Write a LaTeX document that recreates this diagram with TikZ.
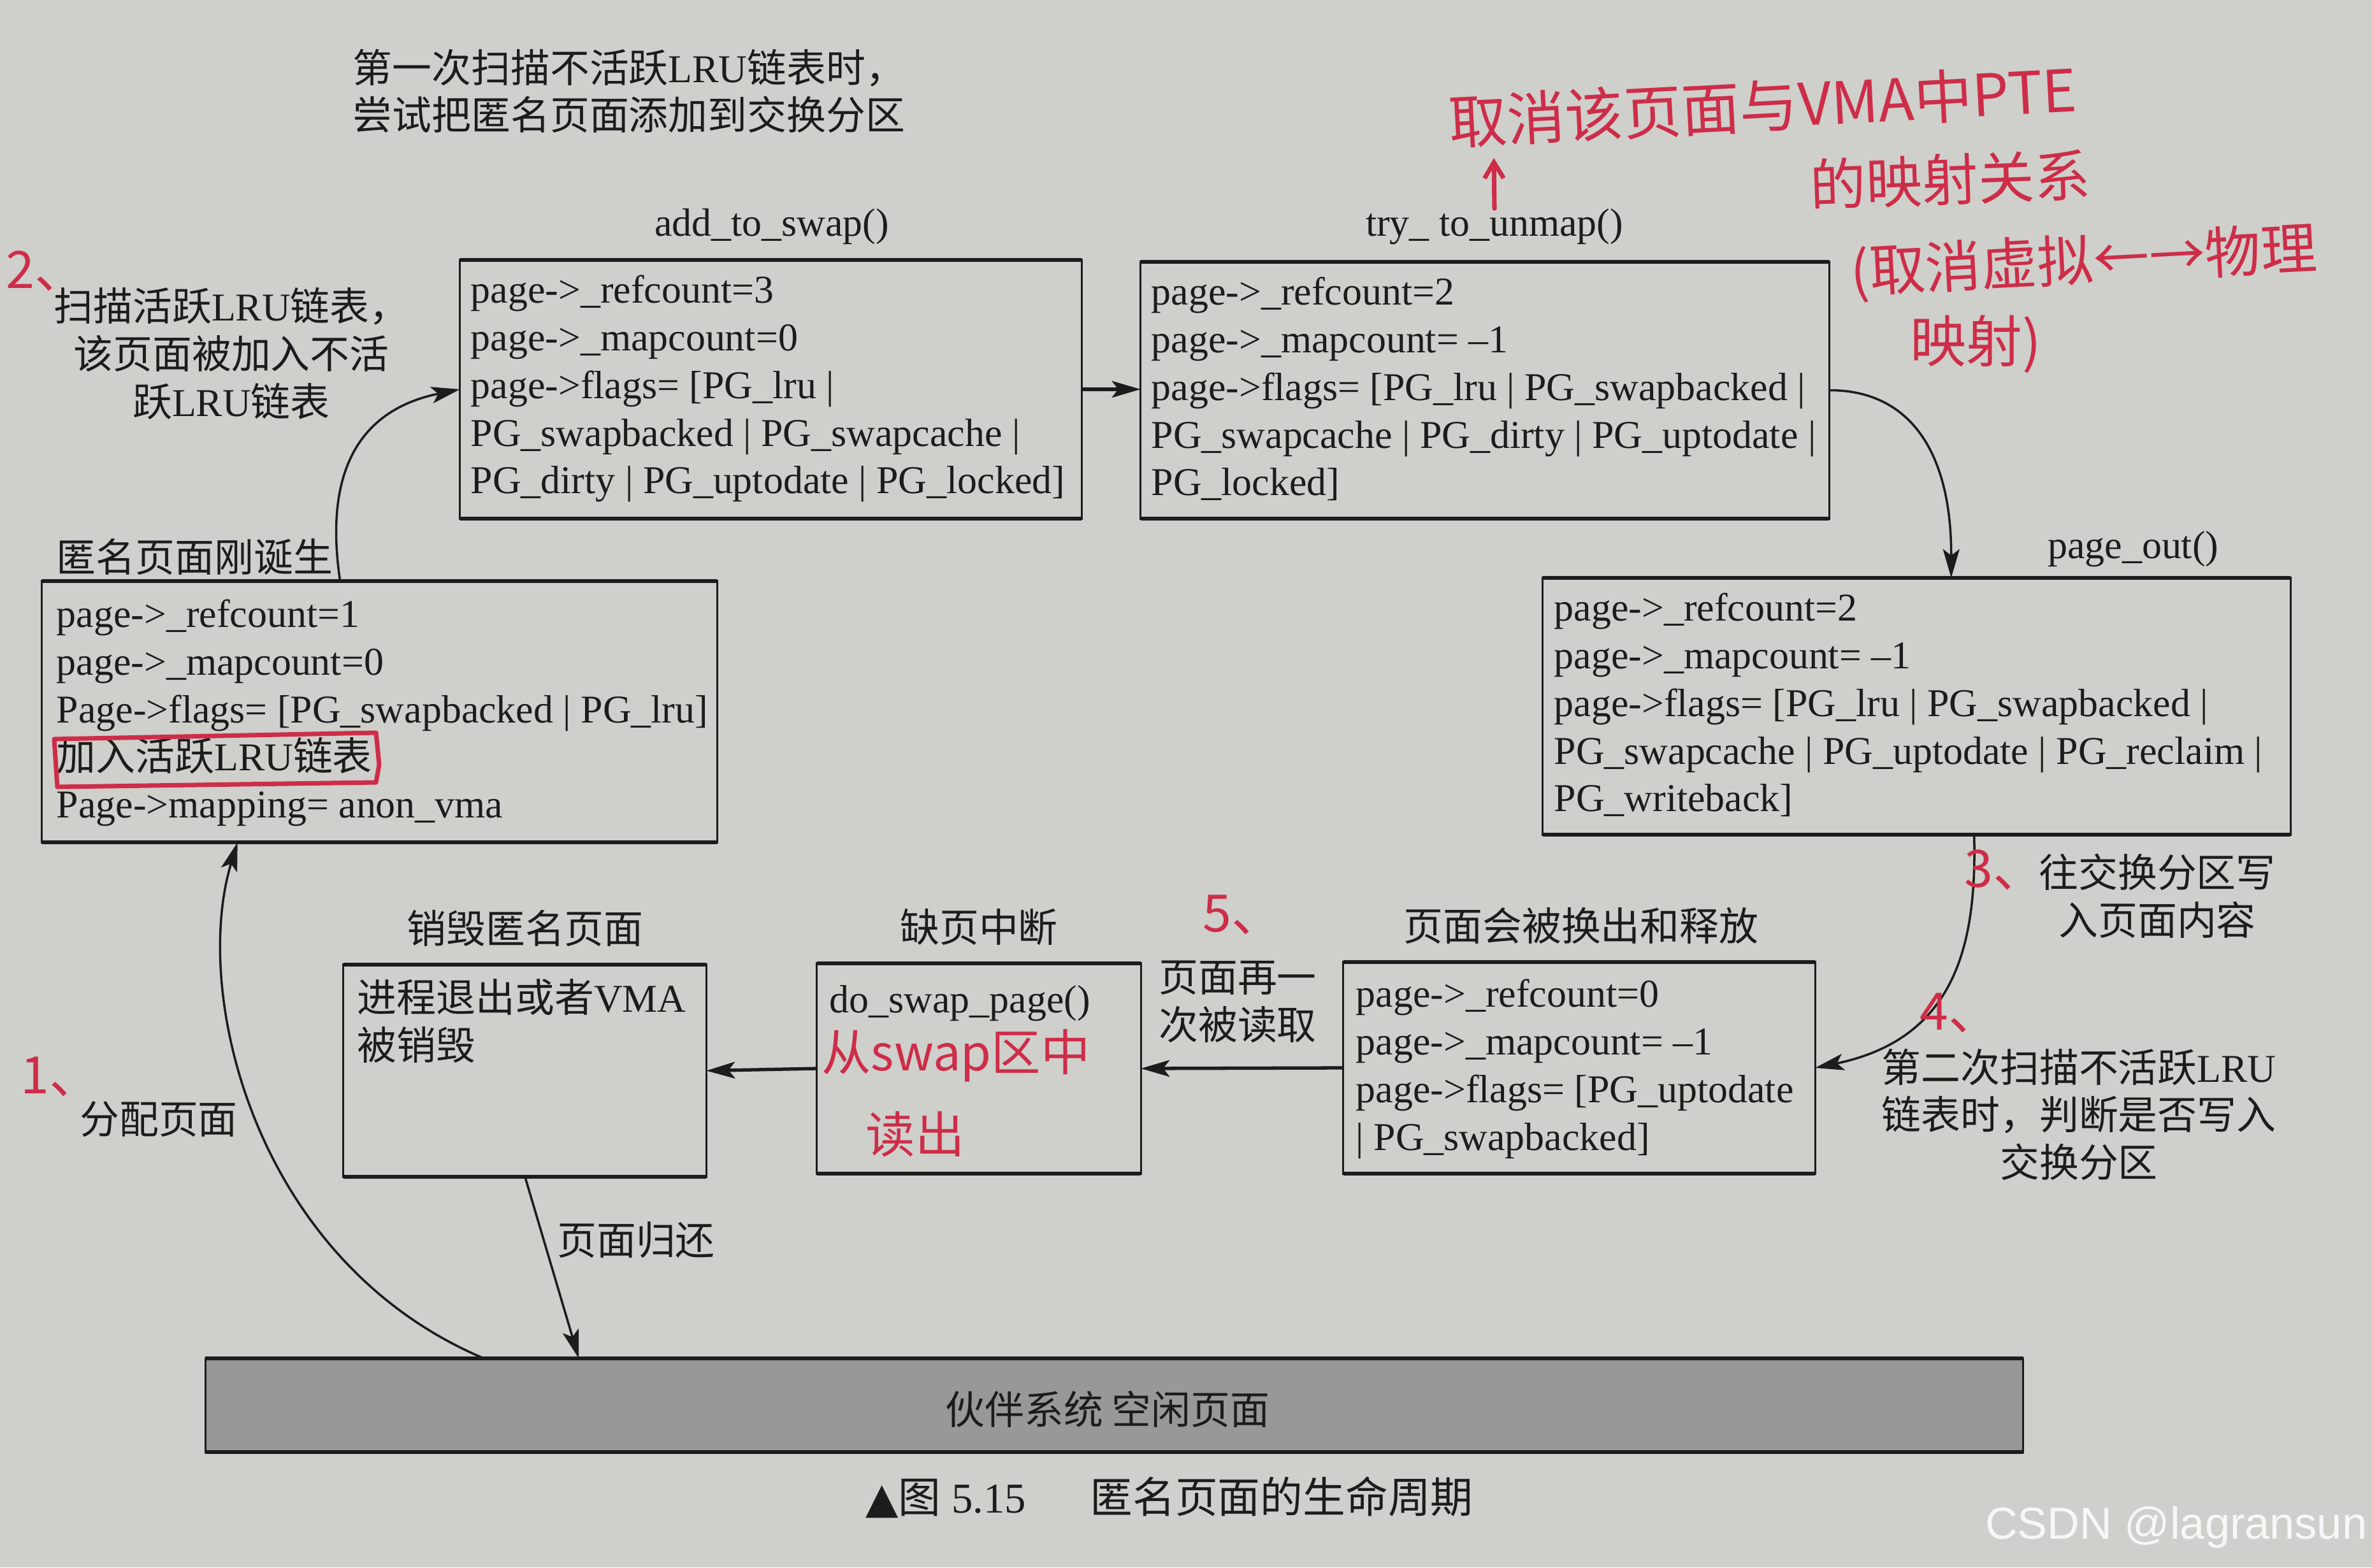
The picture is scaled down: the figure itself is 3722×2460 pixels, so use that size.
\documentclass[tikz,border=0pt]{standalone}
\usepackage{fontspec}
\setmainfont{Liberation Serif}
\newfontfamily\cjk{Noto Sans CJK SC}
\newfontfamily\symf{DejaVu Sans}
\newfontfamily\wmf{Liberation Sans}
\usetikzlibrary{arrows.meta,calc}
\definecolor{paper}{RGB}{207,207,203}
\definecolor{barfill}{RGB}{152,152,150}
\definecolor{ink}{RGB}{28,28,28}
\definecolor{pen}{RGB}{205,45,72}
\newcommand{\myfs}{\fontsize{17.6}{21.3}\selectfont}
\begin{document}
\begin{tikzpicture}[x=0.01cm,y=-0.01cm,
  box/.style={draw=ink, line width=0.85pt, inner sep=0pt, outer sep=0pt},
  rule/.style={draw=ink, line width=1.8pt},
  btxt/.style={inner sep=0pt, anchor=north west, align=left, font=\myfs, text=ink, execute at begin node=\strut},
  lab/.style={inner sep=0pt, font=\cjk\myfs, text=ink},
  mlab/.style={inner sep=0pt, font=\cjk\myfs, text=ink, align=center, anchor=north, execute at begin node=\strut},
  fn/.style={inner sep=0pt, font=\myfs, text=ink},
  arr/.style={draw=ink, line width=1pt, -{Stealth[length=0.45cm,width=0.26cm,inset=0.1cm]}},
  sarr/.style={arr, line width=1.5pt},
  hand/.style={inner sep=0pt, text=pen, font=\cjk\fontsize{25}{30}\selectfont},
  hnum/.style={inner sep=0pt, text=pen, font=\cjk\fontsize{23}{27}\selectfont},
  hands/.style={inner sep=0pt, text=pen, font=\cjk\fontsize{22}{26}\selectfont},
  penline/.style={draw=pen, line width=2pt, line cap=round, line join=round},
]
\path[fill=paper] (0,0) rectangle (3722,2460);
\useasboundingbox (0,0) rectangle (3722,2460);

% boxes
\node[box, minimum width=9.75cm, minimum height=4.06cm] (A) at (1209.5,611) {};
\node[box, minimum width=10.8cm, minimum height=4.03cm] (B) at (2330,612.5) {};
\node[box, minimum width=11.73cm, minimum height=4.03cm] (C) at (3007.5,1108.5) {};
\node[box, minimum width=10.59cm, minimum height=4.10cm] (D) at (595.5,1117) {};
\node[box, minimum width=7.40cm, minimum height=3.32cm] (E) at (2478,1676) {};
\node[box, minimum width=5.08cm, minimum height=3.30cm] (F) at (1536,1677) {};
\node[box, minimum width=5.69cm, minimum height=3.33cm] (G) at (823.5,1680.5) {};
\node[box, fill=barfill, minimum width=28.51cm, minimum height=1.47cm] (Bar) at (1748.5,2205.5) {};
\foreach \n in {A,B,C,D,E,F,G,Bar}{
  \draw[rule] (\n.north west) -- (\n.north east);
  \draw[rule] (\n.south west) -- (\n.south east);
}

% box texts
\node[btxt] (At) at (738,431) {page->\_refcount=3\\page->\_mapcount=0\\page->flags= [PG\_lru |\\PG\_swapbacked | PG\_swapcache |\\PG\_dirty | PG\_uptodate | PG\_locked]};
\node[btxt] (Bt) at (1806,434) {page->\_refcount=2\\page->\_mapcount= –1\\page->flags= [PG\_lru | PG\_swapbacked |\\PG\_swapcache | PG\_dirty | PG\_uptodate |\\PG\_locked]};
\node[btxt] (Ct) at (2438,930) {page->\_refcount=2\\page->\_mapcount= –1\\page->flags= [PG\_lru | PG\_swapbacked |\\PG\_swapcache | PG\_uptodate | PG\_reclaim |\\PG\_writeback]};
\node[btxt] (Dt) at (88,940) {page->\_refcount=1\\page->\_mapcount=0\\Page->flags= [PG\_swapbacked | PG\_lru]\\{\cjk 加入活跃}LRU{\cjk 链表}\\Page->mapping= anon\_vma};
\node[btxt] (Et) at (2127,1536) {page->\_refcount=0\\page->\_mapcount= –1\\page->flags= [PG\_uptodate\\| PG\_swapbacked]};
\node[btxt] (Ft) at (1301,1536) {do\_swap\_page()};
\node[btxt] (Gt) at (560,1536) {{\cjk 进程退出或者}VMA\\{\cjk 被销毁}};
\node[lab] (Bart) at (1738,2212) {伙伴系统 空闲页面};

% titles
\node[btxt, font=\cjk\myfs] (T1) at (553,76) {第一次扫描不活跃{\rmfamily LRU}链表时，\\尝试把匿名页面添加到交换分区};
\node[fn] (TA) at (1211,356) {add\_to\_swap()};
\node[fn] (TB) at (2345,356) {try\_ to\_unmap()};
\node[fn, anchor=east] (TC) at (3482,862) {page\_out()};
\node[lab, anchor=west] (TD) at (88,874) {匿名页面刚诞生};
\node[lab] (TE) at (2481,1453) {页面会被换出和释放};
\node[lab] (TF) at (1536,1455) {缺页中断};
\node[lab] (TG) at (824,1457) {销毁匿名页面};

% side labels
\node[mlab] (L2) at (363,451) {扫描活跃{\rmfamily LRU}链表，\\该页面被加入不活\\跃{\rmfamily LRU}链表};
\node[lab] (L1) at (249,1757) {分配页面};
\node[lab] (LR) at (998,1946) {页面归还};
\node[mlab] (L5) at (1942,1507) {页面再一\\次被读取};
\node[mlab] (L3) at (3385,1339) {往交换分区写\\入页面内容};
\node[mlab] (L4) at (3262,1645) {第二次扫描不活跃{\rmfamily LRU}\\链表时，判断是否写入\\交换分区};

% connectors
\draw[arr] ($(D.north west)+(468,0)$) .. controls (505,720) and (580,640) .. (A.west);
\draw[sarr] (A.east) -- (A.east -| B.west);
\draw[arr] (B.east) .. controls (2990,612) and (3062,700) .. ($(C.north west)+(641,0)$);
\draw[arr] ($(C.south west)+(677,0)$) .. controls (3102,1480) and (3070,1630) .. (E.east);
\draw[sarr] (E.west) -- (F.east);
\draw[sarr] (F.west) -- (G.east);
\draw[arr] ($(G.south west)+(285,0)$) -- ($(Bar.north west)+(586,0)$);
\draw[arr] ($(Bar.north west)+(437,0)$) .. controls (400,1980) and (300,1560) .. ($(D.south west)+(307,0)$);

% caption and watermark
\node[inner sep=0pt, font=\fontsize{19}{22}\selectfont, text=ink] (cap) at (1835,2350) {{\symf ▲}{\cjk 图} 5.15\hspace{1.5em}{\cjk 匿名页面的生命周期}};
\node[inner sep=0pt, anchor=east, font=\wmf\fontsize{20}{24}\selectfont, text=white, opacity=0.85] (wm) at (3715,2397) {CSDN @lagransun};

% handwritten annotations
\node[hand, font=\cjk\fontsize{26}{30}\selectfont, rotate=3] (h1) at (2766,166) {取消该页面与VMA中PTE};
\node[hand, rotate=2] (h2) at (3060,282) {的映射关系};
\node[hand, rotate=3] (h3) at (3270,412) {(取消虚拟←→物理};
\node[hand] (h4) at (3100,540) {映射)};
\coordinate (htip) at (2344,248);
\draw[penline, -{Straight Barb[length=0.25cm,width=0.3cm]}] (TB.north) -- (htip);
\node[hnum] (n2) at (72,425) {2、};
\node[hnum] (n1) at (95,1690) {1、};
\node[hnum] (n5) at (1950,1436) {5、};
\node[hnum] (n3) at (3145,1365) {3、};
\node[hnum] (n4) at (3075,1590) {4、};
\node[hands] (hs1) at (1500,1657) {从swap区中};
\node[hands] (hs2) at (1436,1780) {读出};
\draw[penline] (85,1160) -- (590,1150) -- (595,1200) -- (590,1228) -- (90,1235) -- cycle;
\end{tikzpicture}
\end{document}
